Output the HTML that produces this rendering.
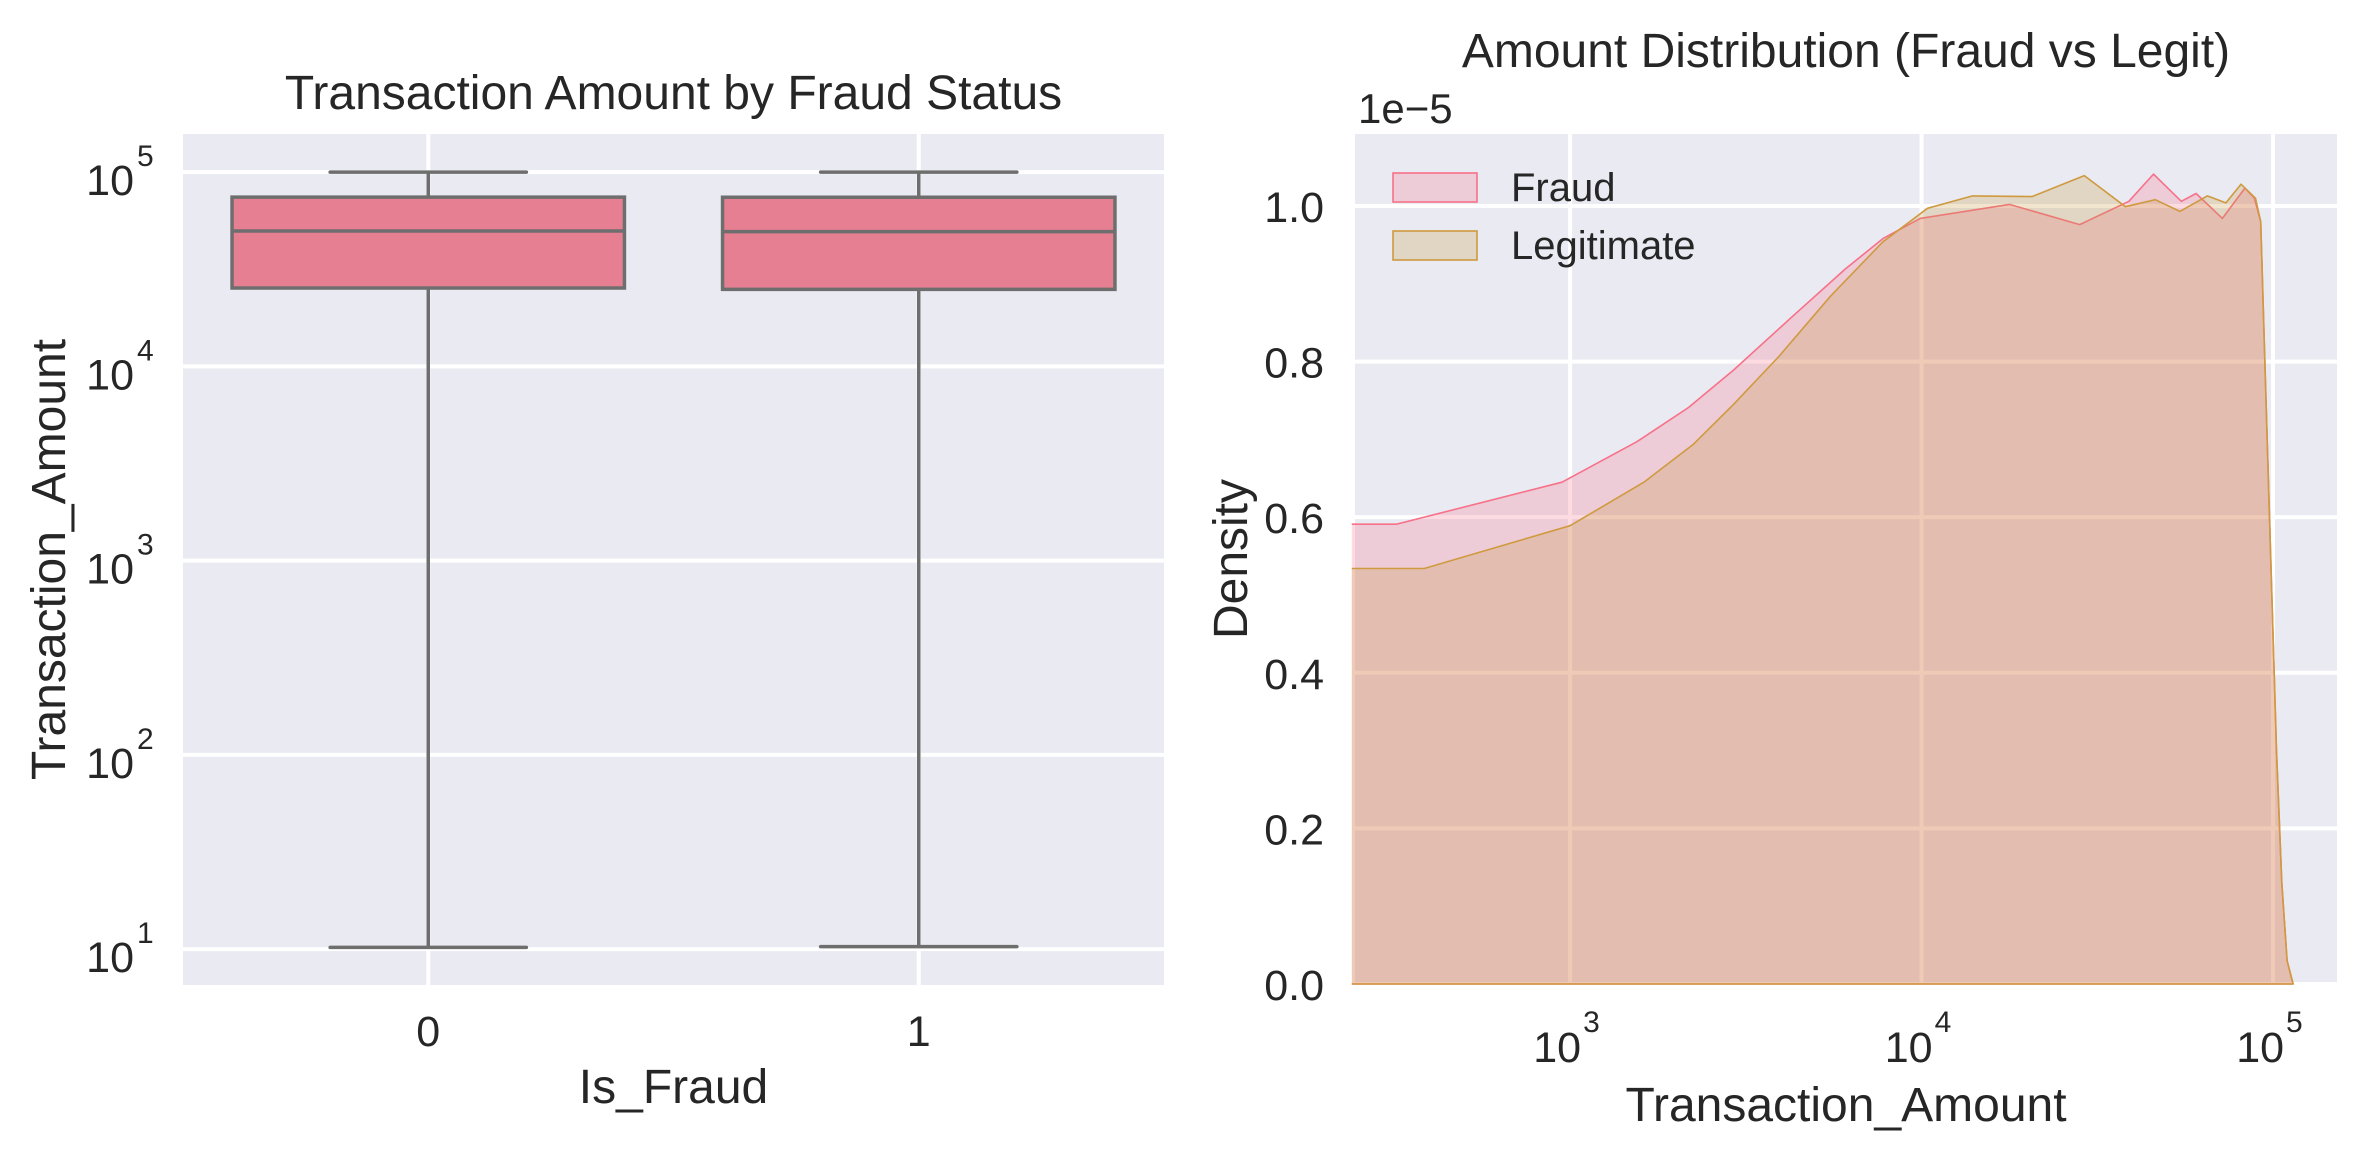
<!DOCTYPE html>
<html><head><meta charset="utf-8"><style>
html,body{margin:0;padding:0;background:#fff}
svg{display:block}
text{font-family:"Liberation Sans",Arial,sans-serif;fill:#262626}
</style></head><body>
<svg id="fig" width="2366" height="1160" viewBox="0 0 2366 1160" xmlns="http://www.w3.org/2000/svg">
<rect x="0" y="0" width="2366" height="1160" fill="#fff"/>
<g id="left"></g>
<g id="right"></g>
</svg>
<script>
// ---------- Left chart data (box plot) ----------
const boxCategories = ["0", "1"];
const boxWhiskerLow = [10.2, 10.3];
const boxQ1 = [25300, 24900];
const boxMedian = [49700, 49400];
const boxQ3 = [74300, 74200];
const boxWhiskerHigh = [99990, 99990];
const leftYTickExps = [1, 2, 3, 4, 5];

// ---------- Right chart data (KDE, log10 amount vs density ×1e-5) ----------
const fraudLogX = [2.379, 2.506, 2.977, 3.19, 3.337, 3.465, 3.635, 3.783, 3.89, 3.996, 4.25, 4.45, 4.59, 4.66, 4.739, 4.781, 4.856, 4.92, 4.947, 4.965, 4.99, 5.01, 5.025, 5.04, 5.057];
const fraudDensity = [0.591, 0.591, 0.645, 0.697, 0.741, 0.789, 0.859, 0.919, 0.958, 0.984, 1.002, 0.976, 1.006, 1.041, 1.006, 1.016, 0.984, 1.023, 1.01, 0.98, 0.6, 0.3, 0.13, 0.03, 0.0];
const legitLogX = [2.379, 2.585, 3.0, 3.21, 3.349, 3.465, 3.593, 3.741, 3.89, 4.017, 4.145, 4.314, 4.463, 4.58, 4.665, 4.735, 4.813, 4.866, 4.909, 4.95, 4.965, 4.99, 5.01, 5.025, 5.04, 5.057];
const legitDensity = [0.534, 0.534, 0.589, 0.645, 0.693, 0.745, 0.806, 0.884, 0.954, 0.997, 1.013, 1.012, 1.039, 0.999, 1.008, 0.993, 1.013, 1.004, 1.028, 1.01, 0.98, 0.6, 0.3, 0.13, 0.03, 0.0];
const rightXTickExps = [3, 4, 5];
const rightYTicks = [0.0, 0.2, 0.4, 0.6, 0.8, 1.0];
const seriesNames = ["Fraud", "Legitimate"];

const NS = "http://www.w3.org/2000/svg";
function mk(parent, tag, attrs, txt){
  const e = document.createElementNS(NS, tag);
  for (const k in attrs) e.setAttribute(k, attrs[k]);
  if (txt !== undefined) e.textContent = txt;
  parent.appendChild(e);
  return e;
}

// ================= LEFT =================
const L = document.getElementById('left');
const lx0 = 183, lx1 = 1164, ly0 = 134, ly1 = 985;
const lLogMin = 0.815, lLogMax = 5.196;
function ly(v){ return ly1 - (Math.log10(v) - lLogMin) / (lLogMax - lLogMin) * (ly1 - ly0); }
const catW = (lx1 - lx0) / boxCategories.length;
function lx(i){ return lx0 + catW * (i + 0.5); }

let bg = mk(L, 'rect', {x:lx0, y:ly0, width:lx1-lx0, height:ly1-ly0, fill:'#eaeaf2'});



leftYTickExps.forEach(e => {
  const y = ly(Math.pow(10, e));
  const g = mk(L, 'line', {x1:lx0, x2:lx1, y1:y, y2:y, stroke:'#fff', 'stroke-width':4});
  
  
  const t = mk(L, 'text', {x:134, y:y+23, 'font-size':43, 'text-anchor':'end'}, '10');
  
  
  const s = mk(L, 'text', {x:137, y:y-6, 'font-size':30}, String(e));
  
  
});

boxCategories.forEach((c, i) => {
  const cx = lx(i);
  const gx = mk(L, 'line', {x1:cx, x2:cx, y1:ly0, y2:ly1, stroke:'#fff', 'stroke-width':4});
  
  
  const hw = catW * 0.4, cw = catW * 0.2;
  const col = '#6e6e6e';
  const wl = mk(L, 'line', {x1:cx, x2:cx, y1:ly(boxWhiskerLow[i]), y2:ly(boxQ1[i]), stroke:col, 'stroke-width':3.5});
  
  
  const wh = mk(L, 'line', {x1:cx, x2:cx, y1:ly(boxWhiskerHigh[i]), y2:ly(boxQ3[i]), stroke:col, 'stroke-width':3.5});
  
  
  const cl = mk(L, 'line', {x1:cx-cw, x2:cx+cw, y1:ly(boxWhiskerLow[i]), y2:ly(boxWhiskerLow[i]), stroke:col, 'stroke-width':3.5, 'stroke-linecap':'round'});
  
  
  const ch = mk(L, 'line', {x1:cx-cw, x2:cx+cw, y1:ly(boxWhiskerHigh[i]), y2:ly(boxWhiskerHigh[i]), stroke:col, 'stroke-width':3.5, 'stroke-linecap':'round'});
  
  
  const b = mk(L, 'rect', {x:cx-hw, y:ly(boxQ3[i]), width:2*hw, height:ly(boxQ1[i])-ly(boxQ3[i]), fill:'#e67f91', stroke:col, 'stroke-width':3.5});
  
  
  const m = mk(L, 'line', {x1:cx-hw, x2:cx+hw, y1:ly(boxMedian[i]), y2:ly(boxMedian[i]), stroke:col, 'stroke-width':3.5});
  
  
  const t = mk(L, 'text', {x:cx, y:1046, 'font-size':43, 'text-anchor':'middle'}, c);
  
  
});

let tt = mk(L, 'text', {x:(lx0+lx1)/2, y:109, 'font-size':48, 'text-anchor':'middle'}, 'Transaction Amount by Fraud Status');


tt = mk(L, 'text', {x:(lx0+lx1)/2, y:1103, 'font-size':48, 'text-anchor':'middle'}, 'Is_Fraud');


tt = mk(L, 'text', {x:0, y:0, 'font-size':48, 'text-anchor':'middle', transform:'translate(65,'+((ly0+ly1)/2)+') rotate(-90)'}, 'Transaction_Amount');



// ================= RIGHT =================
const R = document.getElementById('right');
const rx0 = 1355, rx1 = 2337, ry0 = 134, ry1 = 984;
const rLogMin = 2.388, rLogMax = 5.182, rYMax = 1.0925;
function rx(lg){ return rx0 + (lg - rLogMin) / (rLogMax - rLogMin) * (rx1 - rx0); }
function ry(d){ return ry1 - d / rYMax * (ry1 - ry0); }

bg = mk(R, 'rect', {x:rx0, y:ry0, width:rx1-rx0, height:ry1-ry0, fill:'#eaeaf2'});



rightYTicks.forEach(v => {
  const y = ry(v);
  const g = mk(R, 'line', {x1:rx0, x2:rx1, y1:y, y2:y, stroke:'#fff', 'stroke-width':4});
  
  
  const t = mk(R, 'text', {x:1324, y:y+16, 'font-size':43, 'text-anchor':'end'}, v.toFixed(1));
  
  
});
rightXTickExps.forEach(e => {
  const x = rx(e);
  const g = mk(R, 'line', {x1:x, x2:x, y1:ry0, y2:ry1, stroke:'#fff', 'stroke-width':4});
  
  
  const t = mk(R, 'text', {x:x+11, y:1062, 'font-size':43, 'text-anchor':'end'}, '10');
  
  
  const s = mk(R, 'text', {x:x+13, y:1032, 'font-size':30}, String(e));
  
  
});

function area(lxs, ds, fill, stroke, name){
  let d = 'M' + rx(lxs[0]) + ',' + ry(0);
  for (let i = 0; i < lxs.length; i++) d += ' L' + rx(lxs[i]).toFixed(1) + ',' + ry(ds[i]).toFixed(1);
  d += ' L' + rx(lxs[lxs.length-1]) + ',' + ry(0) + ' Z';
  const a = mk(R, 'path', {d:d, fill:fill, 'fill-opacity':0.25, stroke:'none'});
  
  
  let ld = '';
  for (let i = 0; i < lxs.length; i++) ld += (i ? ' L' : 'M') + rx(lxs[i]).toFixed(1) + ',' + ry(ds[i]).toFixed(1);
  ld += ' L' + rx(lxs[lxs.length-1]) + ',' + ry(0) + ' L' + rx(lxs[0]) + ',' + ry(0);
  const l = mk(R, 'path', {d:ld, fill:'none', stroke:stroke, 'stroke-width':1.6, 'stroke-linejoin':'round'});
  
  
}
area(fraudLogX, fraudDensity, '#f77189', '#f77189', 'fraud');
area(legitLogX, legitDensity, '#c9963a', '#cf9a3f', 'legitimate');

// legend
const legCols = [['#f77189', '#f77189'], ['#c9963a', '#cf9a3f']];
seriesNames.forEach((n, i) => {
  const y = 173 + i * 58;
  const p = mk(R, 'rect', {x:1393, y:y, width:84, height:29, fill:legCols[i][0], 'fill-opacity':0.25, stroke:legCols[i][1], 'stroke-width':1.6});
  
  
  const t = mk(R, 'text', {x:1511, y:y+28, 'font-size':40}, n);
  
  
});

tt = mk(R, 'text', {x:1358, y:123, 'font-size':42}, '1e\u22125');


tt = mk(R, 'text', {x:(rx0+rx1)/2, y:67, 'font-size':48, 'text-anchor':'middle'}, 'Amount Distribution (Fraud vs Legit)');


tt = mk(R, 'text', {x:(rx0+rx1)/2, y:1121, 'font-size':48, 'text-anchor':'middle'}, 'Transaction_Amount');


tt = mk(R, 'text', {x:0, y:0, 'font-size':48, 'text-anchor':'middle', transform:'translate(1247,'+((ry0+ry1)/2)+') rotate(-90)'}, 'Density');


</script>
</body></html>
